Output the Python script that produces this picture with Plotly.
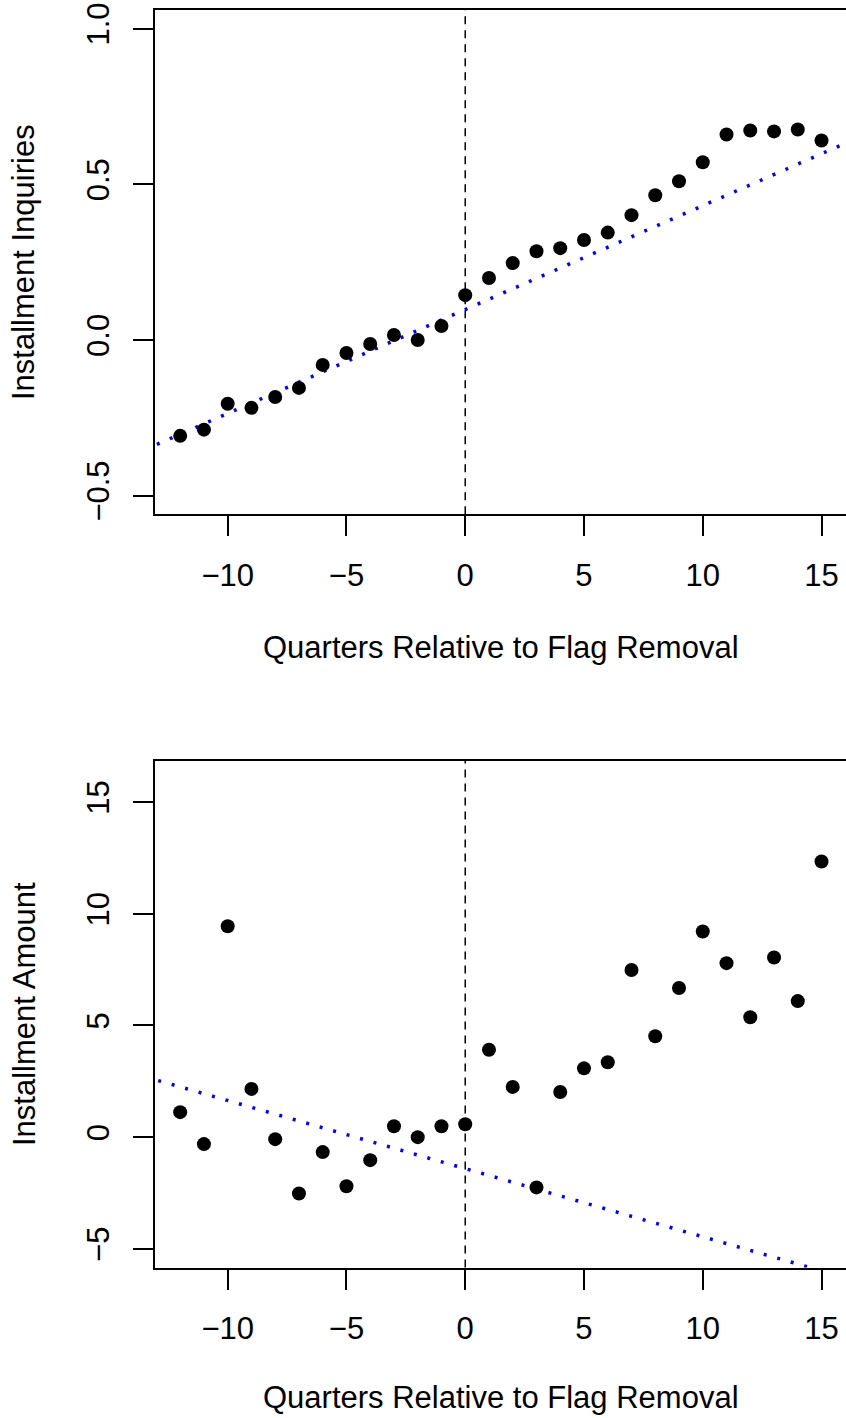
import numpy as np
import plotly.graph_objects as go

# ---------------- data ----------------
quarters = list(range(-12, 16))

inquiries = [-0.308, -0.288, -0.205, -0.218, -0.183, -0.154, -0.080, -0.042,
             -0.013, 0.016, 0.000, 0.045, 0.144, 0.199, 0.247, 0.285,
             0.295, 0.321, 0.345, 0.401, 0.465, 0.510, 0.571, 0.660,
             0.673, 0.670, 0.676, 0.641]

amount = [1.12, -0.31, 9.44, 2.16, -0.09, -2.52, -0.67, -2.20,
          -1.03, 0.49, 0.00, 0.49, 0.58, 3.91, 2.25, -2.25,
          2.02, 3.08, 3.35, 7.48, 4.52, 6.68, 9.21, 7.79,
          5.37, 8.04, 6.09, 12.34]

x_ticks = [-10, -5, 0, 5, 10, 15]
top_y_ticks = [-0.5, 0.0, 0.5, 1.0]
top_y_labels = ["−0.5", "0.0", "0.5", "1.0"]
bot_y_ticks = [-5, 0, 5, 10, 15]
bot_y_labels = ["−5", "0", "5", "10", "15"]

x_label = "Quarters Relative to Flag Removal"
top_y_label = "Installment Inquiries"
bot_y_label = "Installment Amount"

# ---------------- layout constants ----------------
W, H = 846, 1418
X_RANGE = [-13.06, 16.03]
TOP_RANGE = [-0.56, 1.06]
BOT_RANGE = [-5.84, 16.84]
FONT = "Liberation Sans, Arial, Helvetica, sans-serif"
FS = 31


def prefit(xs, ys):
    xa = np.array(xs, dtype=float)
    ya = np.array(ys, dtype=float)
    m = xa < 0
    slope, inter = np.polyfit(xa[m], ya[m], 1)
    return slope, inter


fig = go.Figure()

for vals, yax, xax in [(inquiries, "y", "x"), (amount, "y2", "x2")]:
    slope, inter = prefit(quarters, vals)
    lx = np.array([X_RANGE[0] - 1, X_RANGE[1] + 1])
    fig.add_trace(go.Scatter(
        x=lx, y=inter + slope * lx, mode="lines",
        line=dict(color="#0000ff", width=3.5, dash="3px,11px"),
        xaxis=xax, yaxis=yax, showlegend=False, hoverinfo="skip"))
    fig.add_trace(go.Scatter(
        x=quarters, y=vals, mode="markers",
        marker=dict(color="black", size=14, line=dict(width=0)),
        xaxis=xax, yaxis=yax, showlegend=False))

top_dom = [1 - 514.3 / H, 1 - 10 / H]
bot_dom = [1 - 1267.6 / H, 1 - 761 / H]

xcommon = dict(
    range=X_RANGE, tickmode="array", tickvals=x_ticks,
    ticks="outside", ticklen=20, tickwidth=2, tickcolor="black",
    showline=True, mirror=True, linecolor="black", linewidth=2,
    showgrid=False, zeroline=False, ticklabelstandoff=12,
    tickfont=dict(family=FONT, size=FS, color="black"),
)
ycommon = dict(
    ticks="outside", ticklen=20, tickwidth=2, tickcolor="black",
    showline=True, mirror=False, linecolor="black", linewidth=2,
    showgrid=False, zeroline=False, tickangle=-90, ticklabelstandoff=12,
    tickfont=dict(family=FONT, size=FS, color="black"), tickmode="array",
)

fig.update_layout(
    width=W, height=H,
    margin=dict(l=155, r=0, t=0, b=0, autoexpand=False),
    paper_bgcolor="white", plot_bgcolor="white",
    xaxis=dict(**xcommon, domain=[0, 1], anchor="y"),
    yaxis=dict(**ycommon, domain=top_dom, range=TOP_RANGE, anchor="x",
               tickvals=top_y_ticks, ticktext=top_y_labels),
    xaxis2=dict(**xcommon, domain=[0, 1], anchor="y2"),
    yaxis2=dict(**ycommon, domain=bot_dom, range=BOT_RANGE, anchor="x2",
                tickvals=bot_y_ticks, ticktext=bot_y_labels),
)

# dashed vertical line at 0
for xr, yr in [("x", "y domain"), ("x2", "y2 domain")]:
    fig.add_shape(type="line", xref=xr, yref=yr, x0=0, x1=0, y0=0, y1=1,
                  line=dict(color="black", width=1.5, dash="8px,6px"))

# axis titles as annotations
def px_x(p):
    return (p - 155) / (W - 155)

def px_y(p):
    return 1 - p / H

ann = []
for yc in [647, 1397]:
    ann.append(dict(text=x_label, xref="paper", yref="paper",
                    x=px_x(501), y=px_y(yc), xanchor="center", yanchor="middle",
                    showarrow=False, font=dict(family=FONT, size=FS, color="black")))
for yc, t in [(262, top_y_label), (1014, bot_y_label)]:
    ann.append(dict(text=t, xref="paper", yref="paper", textangle=-90,
                    x=px_x(24), y=px_y(yc), xanchor="center", yanchor="middle",
                    showarrow=False, font=dict(family=FONT, size=FS, color="black")))
fig.update_layout(annotations=ann)

fig.write_html("out.html")
